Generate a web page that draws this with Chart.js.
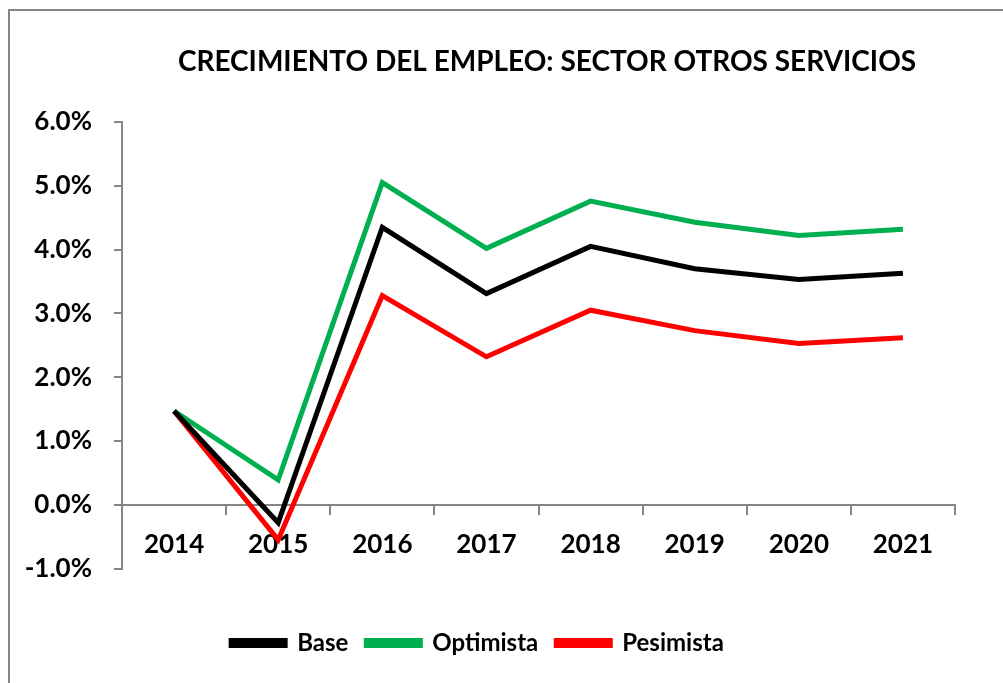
<!DOCTYPE html>
<html>
<head>
<meta charset="utf-8">
<script src="https://cdn.jsdelivr.net/npm/chart.js@4"></script>
<style>
  html, body { margin: 0; padding: 0; background: #fff; }
  #wrap { width: 1003px; height: 683px; }
</style>
</head>
<body>
<div id="wrap"><canvas id="empleoChart" width="1003" height="683"></canvas></div>
<script>
var years = ['2014', '2015', '2016', '2017', '2018', '2019', '2020', '2021'];
var base = [1.47, -0.28, 4.35, 3.31, 4.05, 3.70, 3.53, 3.63];
var optimista = [1.47, 0.39, 5.05, 4.02, 4.76, 4.43, 4.22, 4.32];
var pesimista = [1.47, -0.55, 3.28, 2.32, 3.05, 2.73, 2.53, 2.62];
var chartTitle = 'CRECIMIENTO DEL EMPLEO: SECTOR OTROS SERVICIOS';

var axisGray = '#868686';
var fontFam = 'Lato, "Open Sans", sans-serif';

// gray frame (cut by the window on right and bottom) and the title
var framePlugin = {
  id: 'frame',
  beforeDraw: function(chart) {
    var c = chart.ctx;
    c.save();
    c.fillStyle = '#fff';
    c.fillRect(0, 0, chart.width, chart.height);
    c.strokeStyle = axisGray;
    c.lineWidth = 2;
    c.beginPath();
    c.moveTo(9, chart.height);
    c.lineTo(9, 10);
    c.lineTo(chart.width, 10);
    c.stroke();
    c.fillStyle = '#000';
    c.font = 'bold 28px ' + fontFam;
    c.textAlign = 'center';
    c.textBaseline = 'middle';
    c.fillText(chartTitle, 547, 62);
    c.restore();
  }
};

var ctx = document.getElementById('empleoChart').getContext('2d');
var empleoChart = new Chart(ctx, {
  type: 'line',
  data: {
    labels: years,
    datasets: [
      {
        label: 'Base',
        data: base,
        borderColor: '#000000',
        backgroundColor: '#000000',
        borderWidth: 5,
        pointRadius: 0,
        tension: 0
      }, {
        label: 'Optimista',
        data: optimista,
        borderColor: '#00B050',
        backgroundColor: '#00B050',
        borderWidth: 5,
        pointRadius: 0,
        tension: 0
      }, {
        label: 'Pesimista',
        data: pesimista,
        borderColor: '#FF0000',
        backgroundColor: '#FF0000',
        borderWidth: 5,
        pointRadius: 0,
        tension: 0
      }
    ]
  },
  options: {
    responsive: false,
    animation: false,
    layout: { padding: { left: 0, right: 48, top: 122, bottom: 18 } },
    plugins: {
      title: { display: false },
      legend: {
        position: 'bottom',
        title: { display: true, text: '', padding: 15 },
        labels: {
          color: '#000',
          boxWidth: 54,
          boxHeight: 5,
          padding: 18,
          font: { family: fontFam, size: 24, weight: 'bold' }
        }
      },
      tooltip: { enabled: false }
    },
    scales: {
      x: {
        position: { y: 0 },
        offset: true,
        grid: {
          offset: true,
          drawOnChartArea: false,
          drawTicks: true,
          tickLength: 9,
          color: axisGray,
          lineWidth: 2
        },
        border: { color: axisGray, width: 2 },
        ticks: {
          color: '#000',
          padding: 15,
          font: { family: fontFam, size: 26, weight: 'bold' }
        }
      },
      y: {
        min: -1,
        max: 6,
        afterFit: function(scale) { scale.width = 122; },
        grid: {
          drawOnChartArea: false,
          drawTicks: true,
          tickLength: 8,
          color: axisGray,
          lineWidth: 2
        },
        border: { color: axisGray, width: 2 },
        ticks: {
          stepSize: 1,
          color: '#000',
          padding: 22,
          font: { family: fontFam, size: 26, weight: 'bold' },
          callback: function(v) { return v.toFixed(1) + '%'; }
        }
      }
    }
  },
  plugins: [framePlugin]
});
</script>
</body>
</html>
